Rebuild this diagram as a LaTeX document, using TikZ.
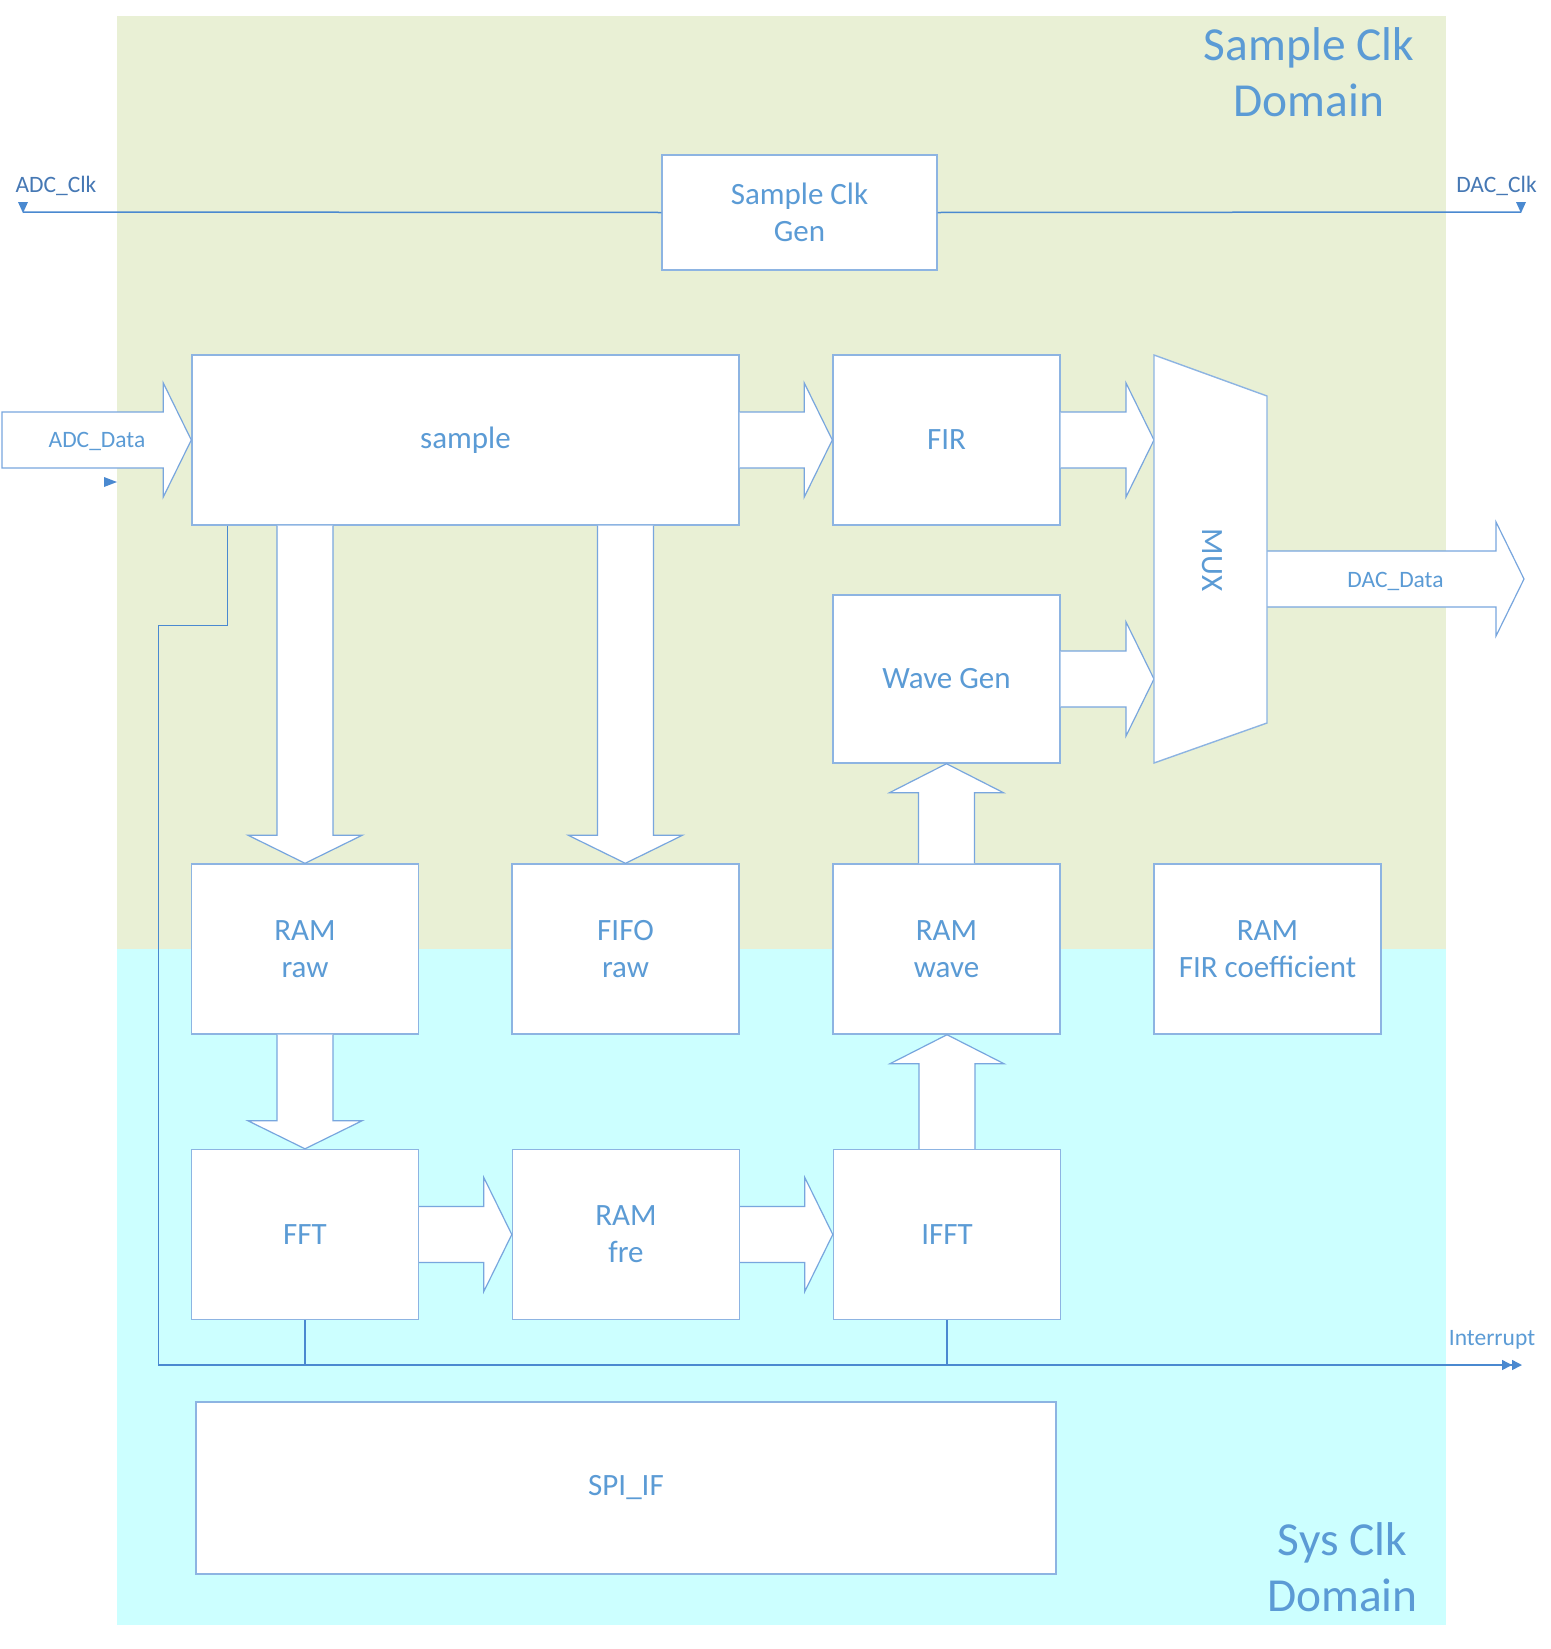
\documentclass[tikz,border=0pt]{standalone}
\usepackage{fontspec}
\setmainfont{Carlito}
\usetikzlibrary{calc,arrows.meta}
\definecolor{greenbg}{RGB}{233,240,213}
\definecolor{cyanbg}{RGB}{204,255,255}
\definecolor{boxc}{RGB}{141,180,226}
\definecolor{busc}{RGB}{120,166,222}
\definecolor{sigc}{RGB}{74,137,208}
\definecolor{txtc}{RGB}{91,155,213}
\definecolor{lblc}{RGB}{70,120,180}
% block arrows: optional #1 closes the path
\newcommand{\busR}[3][]{%
  \filldraw[bus] let \p1=(#2), \p2=(#3) in
    (\x1,\y1+14pt) -- (\x2-14pt,\y1+14pt) -- (\x2-14pt,\y1+28.5pt) -- (\x2,\y1)
    -- (\x2-14pt,\y1-28.5pt) -- (\x2-14pt,\y1-14pt) -- (\x1,\y1-14pt) #1;}
\newcommand{\busD}[2]{%
  \filldraw[bus] let \p1=(#1), \p2=(#2) in
    (\x1+14pt,\y1) -- (\x1+14pt,\y2+14pt) -- (\x1+28.5pt,\y2+14pt) -- (\x1,\y2)
    -- (\x1-28.5pt,\y2+14pt) -- (\x1-14pt,\y2+14pt) -- (\x1-14pt,\y1);}
\newcommand{\busU}[2]{%
  \filldraw[bus] let \p1=(#1), \p2=(#2) in
    (\x1+14pt,\y1) -- (\x1+14pt,\y2-14.5pt) -- (\x1+28.5pt,\y2-14.5pt) -- (\x1,\y2)
    -- (\x1-28.5pt,\y2-14.5pt) -- (\x1-14pt,\y2-14.5pt) -- (\x1-14pt,\y1);}
\begin{document}
\begin{tikzpicture}[x=0.5pt,y=-0.5pt,
  blk/.style={draw=boxc, fill=white, line width=0.7pt, text=txtc,
    font=\fontsize{15.5}{18.5}\selectfont, align=center, inner sep=0pt,
    minimum width=113.5pt, minimum height=85pt},
  bus/.style={draw=busc, fill=white, line width=0.6pt},
  sig/.style={draw=sigc, line width=0.75pt},
  smalllbl/.style={text=txtc, font=\fontsize{11.75}{14}\selectfont, inner sep=0pt},
  clklbl/.style={text=lblc, font=\fontsize{11.75}{14}\selectfont, inner sep=0pt},
  domlbl/.style={text=txtc, font=\fontsize{23.7}{28}\selectfont, align=center, inner sep=0pt}]
\useasboundingbox (0,0) rectangle (1551,1649);
% clock domains
\fill[greenbg] (117,16) rectangle (1446,949);
\fill[cyanbg] (117,949) rectangle (1446,1625);
% blocks
\node[blk, minimum width=137.5pt, minimum height=57.5pt] (clkgen) at (799.5,212.5) {Sample Clk\\Gen};
\node[blk, minimum width=273.5pt] (sample) at (465.5,440) {sample};
\node[blk] (fir) at (946.5,440) {FIR};
\node[blk, minimum height=84pt] (wave) at (946.5,679) {Wave Gen};
\node[blk] (ramraw) at (305,949) {RAM\\raw};
\node[blk] (fiforaw) at (625.5,949) {FIFO\\raw};
\node[blk] (ramwave) at (946.5,949) {RAM\\wave};
\node[blk] (ramfir) at (1267.5,949) {RAM\\FIR coefficient};
\node[blk] (fft) at (305,1234.5) {FFT};
\node[blk] (ramfre) at (626,1234.5) {RAM\\fre};
\node[blk] (ifft) at (947,1234.5) {IFFT};
\node[blk, minimum width=430pt, minimum height=86pt] (spi) at (626,1488) {SPI\_IF};
% coordinates
\coordinate (adcclk) at (23,212);
\coordinate (dacclk) at (1521,212);
\coordinate (intr) at (1522,1365);
\coordinate (adcin) at (2,440);
\coordinate (muxin1) at (1154,440);
\coordinate (muxin2) at (1154,679);
\coordinate (muxout) at (1267,579);
\coordinate (dacout) at (1524,579);
% clock lines
\draw[sig] (clkgen.west) -- (adcclk);
\draw[sig] (clkgen.east) -- (dacclk);
\fill[sigc] (18,202) -- (28,202) -- (23,213) -- cycle;
\fill[sigc] (1516,202) -- (1526,202) -- (1521,213) -- cycle;
% interrupt lines
\draw[sig, -{Triangle[length=5pt,width=5pt]Triangle[length=5pt,width=5pt]}]
  ([xshift=18pt]sample.south west) -- ++(0,100) -- ++(-69,0) |- (intr);
\draw[sig] (fft.south) -- (fft.south |- intr);
\draw[sig] (ifft.south) -- (ifft.south |- intr);
% data buses
\busR[-- cycle]{adcin}{sample.west}
\busR{sample.east}{fir.west}
\busR{fir.east}{muxin1}
\busR{wave.east}{muxin2}
\busR{fft.east}{ramfre.west}
\busR{ramfre.east}{ifft.west}
\busR{muxout}{dacout}
\busD{ramraw.north |- sample.south}{ramraw.north}
\busD{fiforaw.north |- sample.south}{fiforaw.north}
\busD{ramraw.south}{fft.north}
\busU{ifft.north}{ramwave.south}
\busU{ramwave.north}{wave.south}
% MUX
\filldraw[draw=boxc, fill=white, line width=0.7pt] (muxin1 |- 0,355) -- (1267,396) -- (1267,723) -- (1154,763) -- cycle;
\node[text=txtc, font=\fontsize{15.5}{18.5}\selectfont, rotate=-90, inner sep=0pt] (mux) at (1212,560) {MUX};
\fill[sigc] (104,477) -- (117,482) -- (104,487) -- cycle;
% labels
\node[clklbl, anchor=base] (adcclklbl) at (56,192) {ADC\_Clk};
\node[clklbl, anchor=base] (dacclklbl) at (1496.5,192) {DAC\_Clk};
\node[smalllbl, anchor=base] (intrlbl) at (1492,1345) {Interrupt};
\node[smalllbl, anchor=base] (adcdlbl) at (97,447) {ADC\_Data};
\node[smalllbl, anchor=base] (dacdlbl) at (1395.5,587) {DAC\_Data};
\node[domlbl] (sdom) at (1309,72.5) {Sample Clk\\Domain};
\node[domlbl] (ydom) at (1342.5,1567.5) {Sys Clk\\Domain};
\end{tikzpicture}
\end{document}
